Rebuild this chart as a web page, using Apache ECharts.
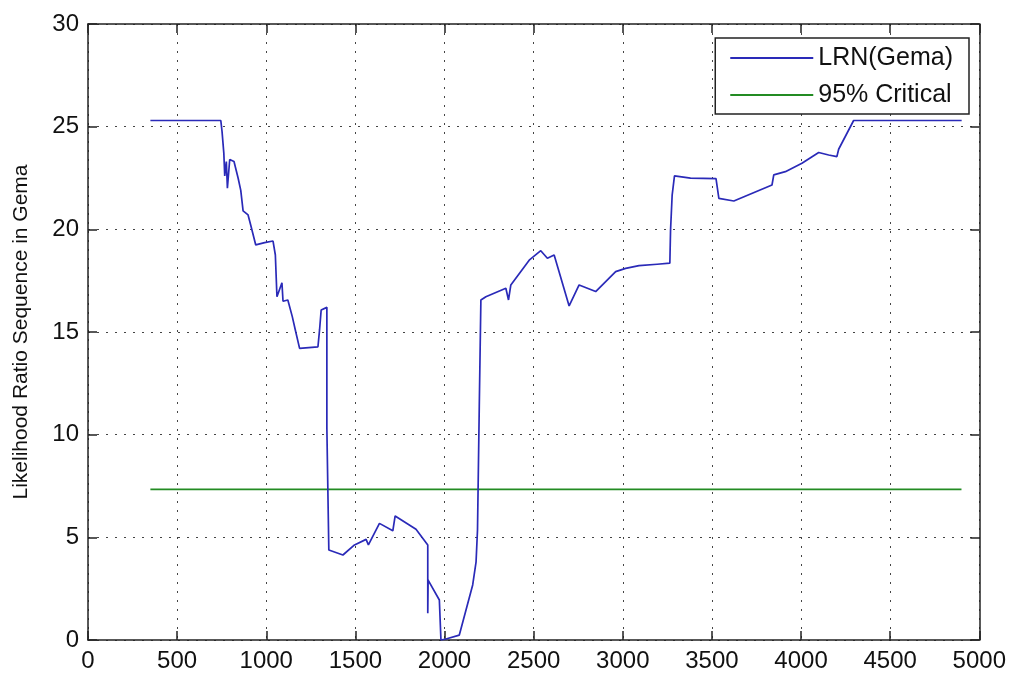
<!DOCTYPE html>
<html>
<head>
<meta charset="utf-8">
<script src="https://cdn.jsdelivr.net/npm/echarts@6/dist/echarts.min.js"></script>
<style>
  html, body { margin: 0; padding: 0; background: #ffffff; }
  #chart { width: 1009px; height: 673px; }
</style>
</head>
<body>
<div id="chart"></div>
<script>
// Sample index (x) and likelihood-ratio value (y) for the Gema sequence
const lrnX = [350, 745, 752, 762, 767, 776, 782, 795, 819, 842, 857, 870, 898, 913, 941, 991, 1038,
  1051, 1060, 1088, 1094, 1121, 1146, 1163, 1187, 1290, 1299, 1308, 1318, 1340, 1340, 1351, 1430,
  1495, 1560, 1573, 1635, 1710, 1723, 1840, 1906, 1906, 1908, 1971, 1980, 2008, 2083, 2158, 2177,
  2185, 2195, 2204, 2232, 2344, 2359, 2372, 2475, 2540, 2577, 2615, 2699, 2755, 2848, 2960, 3016,
  3091, 3193, 3264, 3268, 3277, 3290, 3380, 3523, 3539, 3623, 3837, 3847, 3912, 4005, 4099, 4155,
  4201, 4211, 4295, 4901];
const lrnY = [25.3, 25.3, 24.76, 23.7, 22.6, 23.3, 22.0, 23.4, 23.3, 22.5, 21.9, 20.9, 20.7, 20.2, 19.24, 19.35, 19.43,
  18.75, 16.72, 17.4, 16.5, 16.56, 15.75, 15.1, 14.2, 14.28, 15.1, 16.07, 16.15, 16.2, 10.3, 4.38, 4.14,
  4.63, 4.9, 4.63, 5.68, 5.32, 6.04, 5.39, 4.63, 1.3, 2.92, 1.95, 0, 0.05, 0.24, 2.68, 3.81,
  5.36, 11.4, 16.56, 16.72, 17.13, 16.56, 17.29, 18.5, 18.96, 18.59, 18.75, 16.27, 17.29, 16.97, 17.94, 18.1,
  18.23, 18.3, 18.35, 19.97, 21.67, 22.6, 22.49, 22.47, 21.51, 21.38, 22.16, 22.65, 22.81, 23.22, 23.74, 23.62,
  23.54, 23.9, 25.3, 25.3];

// 95% critical threshold, drawn over the same sample range
const criticalX = [350, 4900];
const criticalY = [7.34, 7.34];

const seriesNames = ['LRN(Gema)', '95% Critical'];
const yAxisTitle = 'Likelihood Ratio Sequence in Gema';

const xRange = { min: 0, max: 5000, interval: 500 };
const yRange = { min: 0, max: 30, interval: 5 };

const zip = (xs, ys) => xs.map((x, i) => [x, ys[i]]);

const FONT = '"Liberation Sans", Arial, sans-serif';
const AXIS_COLOR = '#222';
const BLUE = '#2a2ab8';
const GREEN = '#238b23';

const chart = echarts.init(document.getElementById('chart'), null, { renderer: 'canvas' });

const boxAxisCommon = {
  axisLine: { show: true, onZero: false, lineStyle: { color: AXIS_COLOR, width: 1.5 } },
  axisTick: { show: true, inside: true, length: 9, lineStyle: { color: AXIS_COLOR, width: 1.5 } },
  splitLine: { show: false },
  axisLabel: { show: false }
};

chart.setOption({
  backgroundColor: '#ffffff',
  animation: false,
  grid: { left: 88, right: 28, top: 24, bottom: 33, containLabel: false },
  legend: {
    data: seriesNames.map(name => ({ name: name, icon: 'rect' })),
    orient: 'vertical',
    right: 40,
    top: 38,
    padding: [7, 16, 6, 15],
    itemWidth: 83,
    itemHeight: 2,
    itemGap: 11,
    backgroundColor: '#ffffff',
    borderColor: AXIS_COLOR,
    borderWidth: 1.5,
    borderRadius: 0,
    textStyle: { fontFamily: FONT, fontSize: 25, lineHeight: 26, color: '#111' }
  },
  xAxis: [
    {
      type: 'value',
      position: 'bottom',
      min: xRange.min, max: xRange.max, interval: xRange.interval,
      axisLine: { show: true, onZero: false, lineStyle: { color: AXIS_COLOR, width: 1.5 } },
      axisTick: { show: true, inside: true, length: 9, lineStyle: { color: AXIS_COLOR, width: 1.5 } },
      axisLabel: { fontFamily: FONT, fontSize: 24, color: '#111', margin: 9, formatter: v => String(v) },
      splitLine: { show: true, lineStyle: { color: '#444', width: 1, type: [2, 7] } }
    },
    Object.assign({
      type: 'value',
      position: 'top',
      min: xRange.min, max: xRange.max, interval: xRange.interval
    }, boxAxisCommon)
  ],
  yAxis: [
    {
      type: 'value',
      position: 'left',
      min: yRange.min, max: yRange.max, interval: yRange.interval,
      name: yAxisTitle,
      nameLocation: 'middle',
      nameGap: 56,
      nameTextStyle: { fontFamily: FONT, fontSize: 21, color: '#111' },
      axisLine: { show: true, onZero: false, lineStyle: { color: AXIS_COLOR, width: 1.5 } },
      axisTick: { show: true, inside: true, length: 9, lineStyle: { color: AXIS_COLOR, width: 1.5 } },
      axisLabel: { fontFamily: FONT, fontSize: 24, color: '#111', margin: 9, formatter: v => String(v) },
      splitLine: { show: true, lineStyle: { color: '#444', width: 1, type: [2, 7] } }
    },
    Object.assign({
      type: 'value',
      position: 'right',
      min: yRange.min, max: yRange.max, interval: yRange.interval
    }, boxAxisCommon)
  ],
  series: [
    {
      name: seriesNames[0],
      type: 'line',
      xAxisIndex: 0,
      yAxisIndex: 0,
      data: zip(lrnX, lrnY),
      symbol: 'none',
      lineStyle: { color: BLUE, width: 1.7 },
      itemStyle: { color: BLUE },
      z: 3
    },
    {
      name: seriesNames[1],
      type: 'line',
      xAxisIndex: 0,
      yAxisIndex: 0,
      data: zip(criticalX, criticalY),
      symbol: 'none',
      lineStyle: { color: GREEN, width: 1.7 },
      itemStyle: { color: GREEN },
      z: 2
    }
  ]
});
</script>
</body>
</html>
